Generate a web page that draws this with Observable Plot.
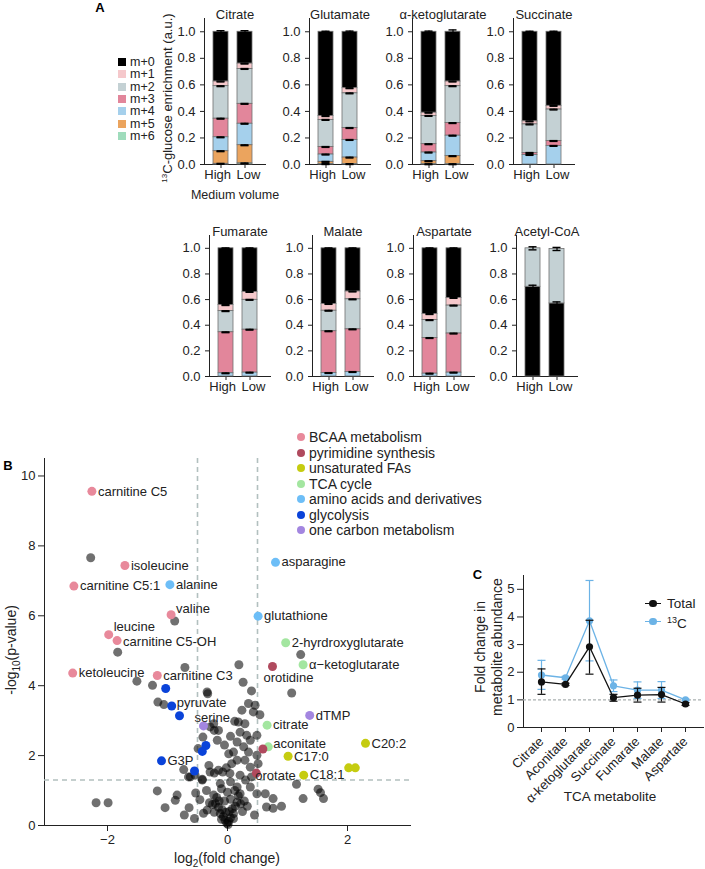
<!DOCTYPE html>
<html><head><meta charset="utf-8">
<script src="https://cdn.jsdelivr.net/npm/d3@7"></script>
<script src="https://cdn.jsdelivr.net/npm/@observablehq/plot@0.6"></script>
<style>
body{margin:0;background:#fff;font-family:Arial,"Liberation Sans",Helvetica,sans-serif;}
#root{position:relative;width:705px;height:869px;overflow:hidden;background:#fff;}
#root svg{position:absolute;}
</style></head><body><div id="root"></div>
<script>
// ---------------- DATA ----------------
// Panel A: isotopologue fractions, order m+0..m+6, [High, Low]
const isotopologues = ["m+0","m+1","m+2","m+3","m+4","m+5","m+6"];
const isoColors = ["#000000","#f5c8cb","#c4d1d4","#e2869b","#a5d0ec","#eba45e","#9fdcbc"];
const conditions = ["High","Low"];
const metabolitesA = ["Citrate","Glutamate","α-ketoglutarate","Succinate","Fumarate","Malate","Aspartate","Acetyl-CoA"];
const citrateFrac   = [[0.375,0.035,0.245,0.14,0.105,0.095,0.005],[0.24,0.04,0.263,0.15,0.162,0.137,0.008]];
const glutamateFrac = [[0.635,0.029,0.204,0.057,0.055,0.017,0.003],[0.425,0.039,0.261,0.09,0.133,0.049,0.003]];
const akgFrac       = [[0.61,0.024,0.213,0.063,0.065,0.023,0.002],[0.375,0.035,0.278,0.095,0.154,0.061,0.002]];
const succinateFrac = [[0.675,0.023,0.215,0.015,0.072,0,0],[0.558,0.028,0.237,0.037,0.14,0,0]];
const fumarateFrac  = [[0.443,0.047,0.165,0.32,0.025,0,0],[0.34,0.062,0.233,0.335,0.03,0,0]];
const malateFrac    = [[0.434,0.053,0.16,0.326,0.027,0,0],[0.337,0.061,0.234,0.333,0.035,0,0]];
const aspartateFrac = [[0.513,0.047,0.14,0.278,0.022,0,0],[0.387,0.06,0.218,0.305,0.03,0,0]];
const acetylcoaFrac = [[0.70,0,0.30,0,0,0,0],[0.57,0,0.425,0,0,0,0]];
const fracA = [citrateFrac,glutamateFrac,akgFrac,succinateFrac,fumarateFrac,malateFrac,aspartateFrac,acetylcoaFrac];
// SD at bar top and at inner boundaries, [High, Low]
const errTopA = [[0.008,0.008],[0.004,0.005],[0.005,0.014],[0.004,0.004],[0.003,0.003],[0.003,0.003],[0.003,0.003],[0.012,0.012]];
const errMidA = [[0.003,0.003],[0.003,0.003],[0.003,0.003],[0.003,0.003],[0.003,0.003],[0.003,0.003],[0.003,0.003],[0.012,0.012]];

// Panel B: volcano plot
const groups = ["BCAA metabolism","pyrimidine synthesis","unsaturated FAs","TCA cycle","amino acids and derivatives","glycolysis","one carbon metabolism"];
const groupColors = ["#e8899b","#b04a5e","#c5cc10","#a3e6a0","#6dbef7","#0a43d9","#a386e0"];
const namedPoints = [
  {name:"carnitine C5", group:"BCAA metabolism", x:-2.26, y:9.56},
  {name:"isoleucine", group:"BCAA metabolism", x:-1.71, y:7.44},
  {name:"carnitine C5:1", group:"BCAA metabolism", x:-2.56, y:6.85},
  {name:"valine", group:"BCAA metabolism", x:-0.94, y:6.03},
  {name:"leucine", group:"BCAA metabolism", x:-1.98, y:5.46},
  {name:"carnitine C5-OH", group:"BCAA metabolism", x:-1.84, y:5.29},
  {name:"ketoleucine", group:"BCAA metabolism", x:-2.58, y:4.36},
  {name:"carnitine C3", group:"BCAA metabolism", x:-1.17, y:4.29},
  {name:"alanine", group:"amino acids and derivatives", x:-0.96, y:6.89},
  {name:"asparagine", group:"amino acids and derivatives", x:0.80, y:7.53},
  {name:"glutathione", group:"amino acids and derivatives", x:0.51, y:5.99},
  {name:"pyruvate", group:"glycolysis", x:-0.93, y:3.42},
  {name:"G3P", group:"glycolysis", x:-1.10, y:1.85},
  {name:"serine", group:"one carbon metabolism", x:-0.40, y:2.85},
  {name:"dTMP", group:"one carbon metabolism", x:1.37, y:3.15},
  {name:"2-hyrdroxyglutarate", group:"TCA cycle", x:0.97, y:5.23},
  {name:"α−ketoglutarate", group:"TCA cycle", x:1.26, y:4.60},
  {name:"citrate", group:"TCA cycle", x:0.66, y:2.87},
  {name:"aconitate", group:"TCA cycle", x:0.68, y:2.25},
  {name:"orotidine", group:"pyrimidine synthesis", x:0.75, y:4.55},
  {name:"orotate", group:"pyrimidine synthesis", x:0.48, y:1.50},
  {name:"C20:2", group:"unsaturated FAs", x:2.30, y:2.35},
  {name:"C17:0", group:"unsaturated FAs", x:1.01, y:1.98},
  {name:"C18:1", group:"unsaturated FAs", x:1.27, y:1.44}
];
const unnamedColored = [
  {group:"glycolysis", x:-1.03, y:3.92},
  {group:"glycolysis", x:-0.80, y:3.14},
  {group:"glycolysis", x:-0.36, y:2.29},
  {group:"glycolysis", x:-0.42, y:2.12},
  {group:"glycolysis", x:-0.55, y:1.56},
  {group:"pyrimidine synthesis", x:0.59, y:2.19},
  {group:"unsaturated FAs", x:2.02, y:1.65},
  {group:"unsaturated FAs", x:2.13, y:1.65}
];
const grayPoints = [
  [-2.28,7.66],[-0.88,5.85],[-1.83,4.96],[-1.51,4.13],[-1.25,4.01],[-0.71,4.52],[-1.16,3.53],[-1.06,3.46],
  [-0.33,3.77],[0.19,4.60],[0.26,4.10],[-0.22,2.72],[-0.41,2.53],[-0.49,2.20],[-0.73,1.60],[-0.65,1.39],
  [-0.42,1.32],[-0.42,1.30],[-1.17,0.99],[-0.87,0.72],[-1.04,0.51],[-0.72,0.30],[-0.64,0.51],[-2.19,0.65],[-1.99,0.65],
  [-0.53,0.93],[-0.46,0.74],[-0.17,2.44],[-0.31,1.72],[-0.22,1.50],[-0.08,1.53],[0.07,1.77],
  [1.22,4.89],[1.07,3.79],[0.40,3.85],[0.46,3.44],[0.54,3.17],[0.35,3.49],[0.43,3.25],[0.18,2.96],
  [0.29,2.91],[0.21,2.67],[0.32,2.58],[0.38,2.44],[0.49,2.58],[0.16,2.39],[0.27,2.25],[0.35,2.10],
  [0.49,2.01],[0.51,1.77],[0.10,2.10],[0.16,1.87],[0.29,1.87],[0.38,1.67],[-0.15,1.58],[0.04,1.49],
  [0.21,1.44],[0.40,1.39],[-0.29,1.53],[-0.54,1.44],[-0.62,1.39],[-0.23,2.91],[-0.15,2.72],[-0.34,3.82],
  [-0.29,2.82],[-0.84,0.87],[-0.34,0.44],[-0.23,0.87],[-0.12,1.20],[0.16,1.10],[0.21,0.91],[0.38,1.10],
  [0.49,0.91],[0.63,0.91],[0.65,0.53],[0.76,0.77],[0.90,0.55],[0.76,0.49],[1.15,1.18],[1.26,0.77],
  [1.51,1.04],[1.55,0.94],[1.60,0.77],[0.12,2.98],[0.05,2.55],[-0.05,2.30],[0.02,2.05],[0.24,3.30],
  [-0.01,0.06],[0.01,0.03],[0.02,0.12],[-0.04,0.15],[0.05,0.22],[-0.07,0.25],[-0.12,0.34],[0.10,0.34],
  [-0.20,0.63],[0.16,0.67],[-0.09,0.45],[0.08,0.48],[-0.15,0.52],[0.13,0.55],[-0.25,0.60],[0.22,0.62],
  [-0.05,0.70],[0.05,0.75],[-0.30,0.65],[0.28,0.70],[-0.18,0.80],[0.18,0.85],[0.00,0.95],[-0.10,1.05],
  [0.12,1.00],[0.30,1.30],[-0.35,1.00],[-0.03,0.38],[0.03,0.40],[-0.14,0.70],[0.10,0.20],[-0.10,0.18],
  [0.25,0.40],[-0.22,0.38],[0.33,0.55],[-0.40,0.35],[0.45,0.30],[-0.55,0.20],[0.05,1.25],[-0.02,1.65]
];

// Panel C: TCA metabolites fold change
const tcaNames = ["Citrate","Aconitate","α-ketoglutarate","Succinate","Fumarate","Malate","Aspartate"];
const totalMean = [1.65,1.56,2.92,1.08,1.17,1.19,0.85];
const totalLo   = [1.20,1.52,1.93,0.95,0.92,0.92,0.80];
const totalHi   = [2.12,1.60,3.88,1.20,1.42,1.45,0.90];
const c13Mean   = [1.90,1.80,3.86,1.51,1.35,1.35,1.00];
const c13Lo     = [1.38,1.75,2.41,1.30,1.05,1.05,0.97];
const c13Hi     = [2.43,1.85,5.32,1.72,1.65,1.66,1.03];

// ---------------- LAYOUT HELPERS ----------------
const root = document.getElementById("root");
const FONT = "Arial, 'Liberation Sans', Helvetica, sans-serif";
const baseStyle = {fontFamily: FONT, fontSize: "13px", background: "none", overflow: "visible", color: "#222"};
const minusFmt = d => (d < 0 ? "−" : "") + Math.abs(d);
function putSvg(svg, left, top) {
  svg.style.position = "absolute";
  svg.style.left = left + "px";
  svg.style.top = top + "px";
  svg.style.maxWidth = "none";
  root.appendChild(svg);
}
function textDiv(html, x, y, o = {}) {
  const d = document.createElement("div");
  d.innerHTML = html;
  Object.assign(d.style, {position:"absolute", left:x+"px", top:y+"px", whiteSpace:"nowrap",
    fontSize:(o.size||13)+"px", fontWeight:o.bold?"bold":"normal", color:o.color||"#222",
    lineHeight:(o.lh || 1.2) + (o.lh > 3 ? "px" : ""),
    textAlign:"center", fontFamily:FONT,
    transform:(o.left ? "translate(0,-50%)" : "translate(-50%,-50%)") + (o.rotate ? ` rotate(${o.rotate}deg)` : "")});
  root.appendChild(d);
  return d;
}

// ---------------- PANEL A ----------------
const orderStd = ["m+6","m+5","m+4","m+3","m+2","m+1","m+0"];
const orderAcCoA = ["m+0","m+2","m+1","m+3","m+4","m+5","m+6"];
const axisXTop = [204, 309, 412, 513];
const axisXBot = [209, 312, 413, 516];
function stackChart(i) {
  const fr = fracA[i];
  const order = i === 7 ? orderAcCoA : orderStd;
  const top = i < 4;
  const axisX = top ? axisXTop[i] : axisXBot[i - 4];
  const svgTop = top ? 0 : 200, frameTop = top ? 18 : 235, frameBottom = top ? 164 : 376;
  const rows = [];
  conditions.forEach((c, ci) => isotopologues.forEach((iso, k) => {
    if (fr[ci][k] > 0) rows.push({condition: c, iso, value: fr[ci][k]});
  }));
  const errs = [];
  conditions.forEach((c, ci) => {
    const present = order.filter(iso => fr[ci][isotopologues.indexOf(iso)] > 0);
    let cum = 0;
    present.forEach((iso, j) => {
      cum += fr[ci][isotopologues.indexOf(iso)];
      errs.push({condition: c, top: cum, e: j === present.length - 1 ? errTopA[i][ci] : errMidA[i][ci]});
    });
  });
  const mL = 36, mR = 24, mB = 28;
  const svg = Plot.plot({
    width: mL + 61 + mR, height: frameBottom - svgTop + mB,
    marginLeft: mL, marginRight: mR, marginTop: frameTop - svgTop, marginBottom: mB,
    style: baseStyle,
    x: {domain: conditions, paddingInner: 0.36, paddingOuter: 0.4, align: 0.4, tickSize: 4, tickFormat: () => "", line: true, label: null},
    y: {domain: [0, 1.1], ticks: [0, 0.2, 0.4, 0.6, 0.8, 1.0], tickFormat: d3.format(".1f"), tickSize: 4, line: true, label: null},
    color: {domain: isotopologues, range: isoColors},
    marks: [
      Plot.barY(rows, {x: "condition", y: "value", fill: "iso", order, stroke: "#707070", strokeWidth: 0.8}),
      Plot.ruleX(errs, {x: "condition", y1: d => d.top - d.e, y2: d => d.top + d.e, stroke: "black", strokeWidth: 1.2}),
      Plot.tickY(errs, {x: "condition", y: d => d.top + d.e, stroke: "black", strokeWidth: 1.4, insetLeft: 3.5, insetRight: 3.5}),
      Plot.tickY(errs, {x: "condition", y: d => d.top - d.e, stroke: "black", strokeWidth: 1.4, insetLeft: 3.5, insetRight: 3.5}),
      Plot.text([conditions[0]], {x: d => d, frameAnchor: "bottom", dy: 14, dx: 10, textAnchor: "end", text: d => d, fontSize: 13, fill: "#222"}),
      Plot.text([conditions[1]], {x: d => d, frameAnchor: "bottom", dy: 14, dx: -8.5, textAnchor: "start", text: d => d, fontSize: 13, fill: "#222"}),
      Plot.text([metabolitesA[i]], {frameAnchor: "top", dy: -9, text: d => d, fontSize: 13, fill: "#222"})
    ]
  });
  putSvg(svg, axisX - mL, svgTop);
}
for (let i = 0; i < 8; i++) stackChart(i);

// Panel A legend
isotopologues.forEach((iso, k) => {
  const y = 62 + 12.3 * k;
  const sw = document.createElement("div");
  Object.assign(sw.style, {position:"absolute", left:"118px", top:(y-4)+"px", width:"8px", height:"8px", background:isoColors[k]});
  root.appendChild(sw);
  textDiv(iso, 130, y, {left:true, size:12.5, lh:12});
});
textDiv("<sup style='font-size:8px'>13</sup>C-glucose enrichment (a.u.)", 168, 98, {rotate:-90, size:13});
textDiv("Medium volume", 235, 195, {size:12.5});
textDiv("A", 100, 8, {bold:true, size:13, color:"#000"});

// ---------------- PANEL B ----------------
const placements = {
  right: {dx: 6, dy: 0}, aboveRight: {dx: 5, dy: -6}, leucineUp: {dx: 5, dy: -7.5}, above: {dx: -9, dy: -8},
  below: {dx: -9, dy: 11}, over: {dx: -1, dy: 3}, rightUp: {dx: 5, dy: -3.5}, rightDown: {dx: 6, dy: 1}
};
const labelPlace = {"valine":"aboveRight","leucine":"leucineUp","carnitine C5-OH":"rightDown","C17:0":"rightDown","serine":"above","orotidine":"below","orotate":"over","aconitate":"rightUp","pyruvate":"rightUp"};
const placeOf = d => labelPlace[d.name] || "right";
const colorOf = g => groupColors[groups.indexOf(g)];
const volcano = Plot.plot({
  width: 430, height: 419, marginLeft: 44, marginRight: 20, marginTop: 8, marginBottom: 44,
  style: baseStyle,
  x: {domain: [-3.05, 3.05], ticks: [-2, 0, 2], tickFormat: minusFmt, line: true, label: null},
  y: {domain: [0, 10.5], ticks: [0, 2, 4, 6, 8, 10], tickFormat: minusFmt, line: true, label: null},
  marks: [
    Plot.ruleX([-0.5, 0.5], {stroke: "#b2c0bf", strokeWidth: 1.6, strokeDasharray: "5,4"}),
    Plot.ruleY([1.3], {stroke: "#b2c0bf", strokeWidth: 1.6, strokeDasharray: "5,4"}),
    Plot.dot(grayPoints, {x: d => d[0], y: d => d[1], r: 4.5, fill: "black", fillOpacity: 0.56, stroke: "none"}),
    Plot.dot(unnamedColored.concat(namedPoints).sort((a, b) => (a.group === "pyrimidine synthesis") - (b.group === "pyrimidine synthesis")),
      {x: "x", y: "y", r: 4.5, fill: d => colorOf(d.group), stroke: "none"}),
    ...Object.entries(placements).map(([key, p]) =>
      Plot.text(namedPoints.filter(d => placeOf(d) === key), {x: "x", y: "y", text: "name", dx: p.dx, dy: p.dy,
        textAnchor: "start", fontSize: 13, fill: "#222"}))
  ]
});
putSvg(volcano, 0, 450);
textDiv("-log<sub style='font-size:10px'>10</sub>(p-value)", 13, 650, {rotate:-90, size:14});
textDiv("log<sub style='font-size:10px'>2</sub>(fold change)", 227, 860, {size:14});
textDiv("B", 8, 466, {bold:true, size:13, color:"#000"});
groups.forEach((g, k) => {
  const y = 437.3 + 15.45 * k;
  const dot = document.createElement("div");
  Object.assign(dot.style, {position:"absolute", left:"297px", top:(y-4)+"px", width:"8px", height:"8px", borderRadius:"50%", background:groupColors[k]});
  root.appendChild(dot);
  textDiv(g, 309, y, {left:true, size:14, lh:15});
});

// ---------------- PANEL C ----------------
const tcaRows = tcaNames.map((n, i) => ({name: n, total: totalMean[i], tLo: totalLo[i], tHi: totalHi[i], c13: c13Mean[i], cLo: c13Lo[i], cHi: c13Hi[i]}));
const blue = "#6cb3e6";
const capSymbol = {draw(ctx, size) { const w = Math.sqrt(size / Math.PI); ctx.moveTo(-w, 0); ctx.lineTo(w, 0); }};
const capOpts = {symbol: capSymbol, r: 4, fill: "none", strokeWidth: 1.2};
const panelC = Plot.plot({
  width: 245, height: 250, marginLeft: 63, marginRight: 2, marginTop: 15, marginBottom: 83,
  style: baseStyle,
  x: {type: "point", domain: tcaNames, padding: 0.65, tickRotate: -45, tickSize: 5, line: true, label: null},
  y: {domain: [0, 5.5], ticks: [0, 1, 2, 3, 4, 5], tickFormat: minusFmt, line: true, label: null},
  marks: [
    Plot.ruleY([1], {stroke: "#a9b0b0", strokeWidth: 1.2, strokeDasharray: "3,2"}),
    Plot.ruleX(tcaRows, {x: "name", y1: "cLo", y2: "cHi", stroke: blue, strokeWidth: 1.2}),
    Plot.dot(tcaRows, {x: "name", y: "cHi", stroke: blue, ...capOpts}),
    Plot.dot(tcaRows, {x: "name", y: "cLo", stroke: blue, ...capOpts}),
    Plot.line(tcaRows, {x: "name", y: "c13", stroke: blue, strokeWidth: 1.3}),
    Plot.dot(tcaRows, {x: "name", y: "c13", r: 3.6, fill: blue, stroke: "none"}),
    Plot.ruleX(tcaRows, {x: "name", y1: "tLo", y2: "tHi", stroke: "#111", strokeWidth: 1.2}),
    Plot.dot(tcaRows, {x: "name", y: "tHi", stroke: "#111", ...capOpts}),
    Plot.dot(tcaRows, {x: "name", y: "tLo", stroke: "#111", ...capOpts}),
    Plot.line(tcaRows, {x: "name", y: "total", stroke: "#111", strokeWidth: 1.3}),
    Plot.dot(tcaRows, {x: "name", y: "total", r: 3.6, fill: "#111", stroke: "none"})
  ]
});
putSvg(panelC, 460, 560);
textDiv("Fold change in<br>metabolite abundance", 489, 647, {rotate:-90, size:14});
textDiv("TCA metabolite", 610, 797, {size:13.5});
textDiv("C", 477.5, 575, {bold:true, size:13, color:"#000"});
// Panel C legend
[["Total", "#111", 603.3], ["<sup style='font-size:9px'>13</sup>C", blue, 621.7]].forEach(([lab, col, y]) => {
  const ln = document.createElement("div");
  Object.assign(ln.style, {position:"absolute", left:"645px", top:(y-0.7)+"px", width:"16px", height:"1.4px", background:col});
  root.appendChild(ln);
  const dt = document.createElement("div");
  Object.assign(dt.style, {position:"absolute", left:(653-3.6)+"px", top:(y-3.6)+"px", width:"7.2px", height:"7.2px", borderRadius:"50%", background:col});
  root.appendChild(dt);
  textDiv(lab, 667, y, {left:true, size:13.5, lh:15});
});
</script></body></html>
